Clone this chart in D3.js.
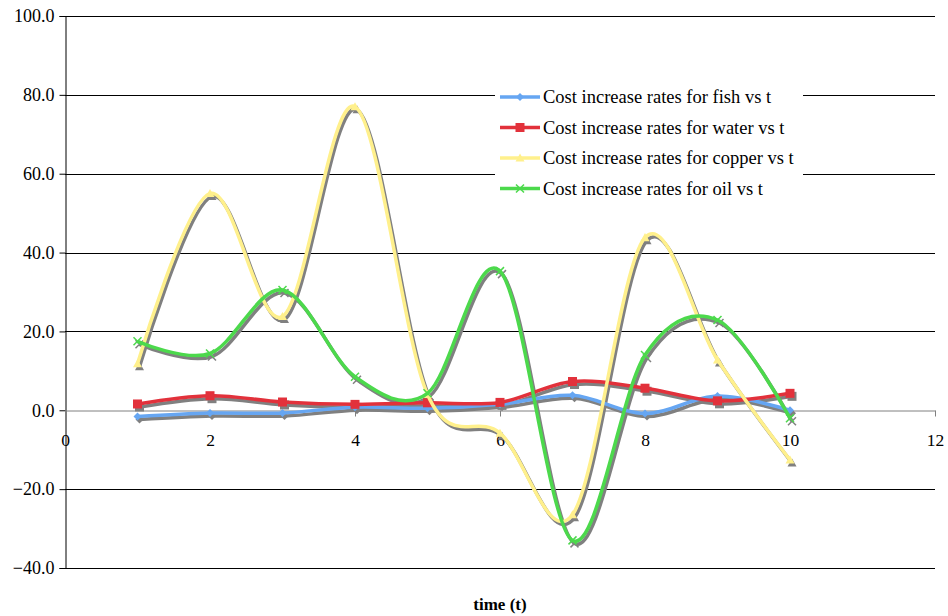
<!DOCTYPE html>
<html>
<head>
<meta charset="utf-8">
<script src="https://cdn.jsdelivr.net/npm/d3@7/dist/d3.min.js"></script>
<style>
  html, body { margin: 0; padding: 0; background: #fff; }
  svg { display: block; }
  svg text { font-family: "Liberation Serif", "Times New Roman", Times, "DejaVu Serif", serif !important; }
</style>
</head>
<body>
<svg id="chart" width="948" height="616"></svg>
<script>
// time steps
const times = [1, 2, 3, 4, 5, 6, 7, 8, 9, 10];

// cost increase rates per commodity
const fish   = [-1.6, -0.7, -0.7, 0.8, 0.5, 1.5, 3.8, -0.8, 3.6, 0.0];
const water  = [1.6, 3.7, 2.1, 1.5, 1.9, 2.0, 7.3, 5.6, 2.4, 4.3];
const copper = [11.8, 55.0, 23.8, 77.0, 4.0, -5.8, -26.5, 43.8, 12.8, -12.6];
const oil    = [17.5, 14.4, 30.5, 8.5, 4.3, 35.3, -33.0, 14.0, 22.9, -2.0];

const seriesNames = [
  "Cost increase rates for fish vs t",
  "Cost increase rates for water vs t",
  "Cost increase rates for copper vs t",
  "Cost increase rates for oil vs t"
];

const xTicks = [0, 2, 4, 6, 8, 10, 12];
const yTicks = [-40, -20, 0, 20, 40, 60, 80, 100];
const xTitle = "time (t)";

const series = [
  { name: seriesNames[0], values: fish,   color: "#66a6f2", marker: "diamond" },
  { name: seriesNames[1], values: water,  color: "#e2313b", marker: "square" },
  { name: seriesNames[2], values: copper, color: "#fff08c", marker: "triangle" },
  { name: seriesNames[3], values: oil,    color: "#4cd94c", marker: "cross" }
];

const svg = d3.select("#chart");
const plotL = 65, plotR = 935, plotT = 16, plotB = 568;

const x = d3.scaleLinear().domain([0, 12]).range([plotL, plotR]);
const y = d3.scaleLinear().domain([-40, 100]).range([plotB, plotT]);

// horizontal gridlines
svg.append("g")
  .selectAll("line")
  .data(yTicks.filter(v => v !== 0))
  .join("line")
  .attr("x1", plotL).attr("x2", plotR)
  .attr("y1", d => Math.round(y(d)) + 0.5).attr("y2", d => Math.round(y(d)) + 0.5)
  .attr("stroke", "#000").attr("stroke-width", 1);

// y axis
const yAxis = d3.axisLeft(y).tickValues(yTicks).tickSize(6).tickPadding(5)
  .tickFormat(d3.format(".1f"));
const gy = svg.append("g")
  .attr("transform", `translate(${plotL + 0.5},0)`)
  .call(yAxis);
gy.attr("font-family", null);
gy.select(".domain").attr("stroke", "#000");
gy.selectAll(".tick line").attr("stroke", "#000");
gy.selectAll(".tick text").attr("font-size", 18).attr("fill", "#000");

// x axis along zero
const xAxis = d3.axisBottom(x).tickValues(xTicks).tickSize(6).tickSizeOuter(0).tickPadding(17);
const gx = svg.append("g")
  .attr("transform", `translate(0,${Math.round(y(0)) + 0.5})`)
  .call(xAxis);
gx.attr("font-family", null);
gx.select(".domain").attr("stroke", "#808080");
gx.selectAll(".tick line").attr("stroke", "#808080");
gx.selectAll(".tick text").attr("font-size", 17.5).attr("fill", "#000");

// axis title
svg.append("text")
  .attr("x", (plotL + plotR) / 2).attr("y", 610)
  .attr("text-anchor", "middle")
  .attr("font-size", 17).attr("font-weight", "bold")
  .text(xTitle);

const line = d3.line()
  .x((d, i) => x(times[i]))
  .y(d => y(d))
  .curve(d3.curveCardinal.tension(0));

function markerPath(type, s) {
  switch (type) {
    case "diamond": return `M0,${-s}L${s},0L0,${s}L${-s},0Z`;
    case "square": return `M${-s},${-s}H${s}V${s}H${-s}Z`;
    case "triangle": return `M0,${-s}L${s},${s * 0.8}L${-s},${s * 0.8}Z`;
    case "cross": return `M${-s},${-s}L${s},${s}M${s},${-s}L${-s},${s}`;
  }
}
const markerSize = { diamond: 4, square: 4.5, triangle: 4.5, cross: 4 };

function drawMarker(g, type, color) {
  const p = g.append("path").attr("d", markerPath(type, markerSize[type]));
  if (type === "cross") p.attr("fill", "none").attr("stroke", color).attr("stroke-width", 1.5);
  else p.attr("fill", color).attr("stroke", "none");
  return p;
}

// shadows first, then coloured lines
const plot = svg.append("g");
series.forEach(s => {
  const g = plot.append("g").attr("transform", "translate(2,3)");
  g.append("path").attr("d", line(s.values)).attr("fill", "none")
    .attr("stroke", "#808080").attr("stroke-width", 3.5);
  s.values.forEach((v, i) => {
    const m = g.append("g").attr("transform", `translate(${x(times[i])},${y(v)})`);
    drawMarker(m, s.marker, "#808080");
  });
});
series.forEach(s => {
  const g = plot.append("g");
  g.append("path").attr("d", line(s.values)).attr("fill", "none")
    .attr("stroke", s.color).attr("stroke-width", 3.5);
  s.values.forEach((v, i) => {
    const m = g.append("g").attr("transform", `translate(${x(times[i])},${y(v)})`);
    drawMarker(m, s.marker, s.color);
  });
});

// legend
const legend = svg.append("g");
legend.append("rect").attr("x", 495).attr("y", 82).attr("width", 308).attr("height", 116)
  .attr("fill", "#fff");
series.forEach((s, i) => {
  const yy = 97 + i * 30.5;
  const row = legend.append("g").attr("transform", `translate(0,${yy})`);
  row.append("line").attr("x1", 500).attr("x2", 540).attr("y1", 0).attr("y2", 0)
    .attr("stroke", s.color).attr("stroke-width", 3.5);
  const m = row.append("g").attr("transform", "translate(520,0)");
  drawMarker(m, s.marker, s.color);
  row.append("text").attr("x", 543).attr("y", 0).attr("dy", "0.35em")
    .attr("font-size", 18.5).attr("fill", "#000")
    .text(s.name);
});
</script>
</body>
</html>
